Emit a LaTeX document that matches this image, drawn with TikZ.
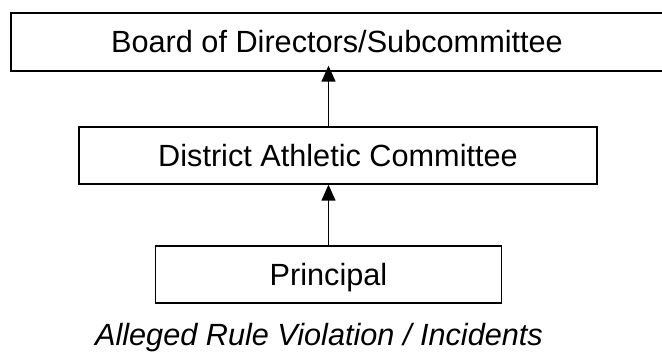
\documentclass[tikz,border=0pt]{standalone}
\usepackage{fontspec}
\setmainfont{Liberation Sans}
\usetikzlibrary{calc,arrows.meta}
\tikzset{
  orgbox/.style={draw,line width=1pt,inner sep=0pt,minimum height=42.75pt,text height=16.3pt,text depth=0pt,font=\fontsize{23}{27}\selectfont},
  uparrow/.style={line width=1pt,-{Triangle[length=12pt,width=10.5pt]}},
  caption/.style={anchor=base,inner sep=0pt,font=\fontsize{23}{27}\selectfont\itshape}
}
\begin{document}
\begin{tikzpicture}[x=0.75pt,y=-0.75pt]
    \useasboundingbox (0,0) rectangle (662,360);
    \node[orgbox,minimum width=489pt,minimum height=43.5pt] (board) at (337,42) {Board of Directors/Subcommittee};
    \node[orgbox,minimum width=388.5pt] (district) at (338,155.5) {District Athletic Committee};
    \node[orgbox,minimum width=259.5pt] (principal) at (328.5,274.5) {Principal};
    \node[caption] (violation) at (319,345) {Alleged Rule Violation / Incidents};
    \draw[uparrow] (principal.north) -- (principal.north |- district.south);
    \draw[uparrow,shorten >=-4.5pt] (principal.north |- district.north) -- (principal.north |- board.south);
  \end{tikzpicture}
\end{document}
